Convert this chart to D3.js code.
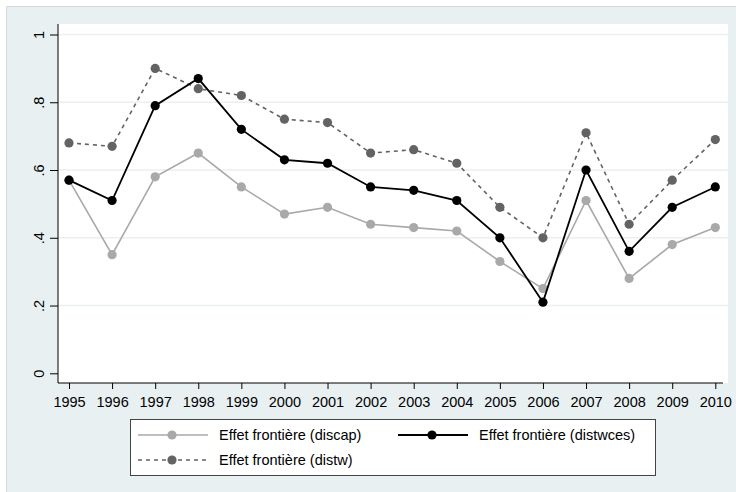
<!DOCTYPE html>
<html>
<head>
<meta charset="utf-8">
<script src="https://cdn.jsdelivr.net/npm/d3@7"></script>
<style>
  body { margin: 0; background: #ffffff; }
  svg { display: block; font-family: "Liberation Sans", Arial, sans-serif; }
</style>
</head>
<body>
<div id="canvas"></div>
<script>
"use strict"

// data
let years = [1995, 1996, 1997, 1998, 1999, 2000, 2001, 2002, 2003, 2004, 2005, 2006, 2007, 2008, 2009, 2010];
let discap = [0.57, 0.35, 0.58, 0.65, 0.55, 0.47, 0.49, 0.44, 0.43, 0.42, 0.33, 0.25, 0.51, 0.28, 0.38, 0.43];
let distwces = [0.57, 0.51, 0.79, 0.87, 0.72, 0.63, 0.62, 0.55, 0.54, 0.51, 0.40, 0.21, 0.60, 0.36, 0.49, 0.55];
let distw = [0.68, 0.67, 0.90, 0.84, 0.82, 0.75, 0.74, 0.65, 0.66, 0.62, 0.49, 0.40, 0.71, 0.44, 0.57, 0.69];
let yTicks = [0, 0.2, 0.4, 0.6, 0.8, 1];
let yTickLabels = ["0", ".2", ".4", ".6", ".8", "1"];
let seriesNames = ["Effet frontière (discap)", "Effet frontière (distwces)", "Effet frontière (distw)"];

let drawingWidth = 736;
let drawingHeight = 492;
let fontSize = 14.5;

let drawing = d3.select("#canvas")
    .append("svg")
    .attr("width", drawingWidth)
    .attr("height", drawingHeight);

// outer graph region
drawing.append("rect")
    .attr("x", 6.5)
    .attr("y", 6.5)
    .attr("width", drawingWidth - 6)
    .attr("height", drawingHeight - 6)
    .attr("fill", "#e9f0f2")
    .attr("stroke", "#d4d8d9");

// plot region
let plotLeft = 58, plotRight = 728, plotTop = 24, plotBottom = 383;
drawing.append("rect")
    .attr("x", plotLeft)
    .attr("y", plotTop)
    .attr("width", plotRight - plotLeft)
    .attr("height", plotBottom - plotTop)
    .attr("fill", "white");

let x = d3.scaleLinear().domain([1995, 2010]).range([69, 715.3]);
let y = d3.scaleLinear().domain([0, 1]).range([373.3, 34.5]);

// grid lines
drawing.append("g")
    .selectAll("line")
    .data(yTicks.filter(d => d > 0))
    .join("line")
    .attr("x1", plotLeft)
    .attr("x2", plotRight)
    .attr("y1", d => y(d))
    .attr("y2", d => y(d))
    .attr("stroke", "#e9f0f2")
    .attr("stroke-width", 1.5);

// y axis
let yAxis = drawing.append("g")
    .attr("transform", `translate(${plotLeft},0)`)
    .call(d3.axisLeft(y).tickValues(yTicks).tickSize(8).tickFormat((d, i) => yTickLabels[i]));
yAxis.select(".domain").attr("d", `M0,${plotTop}V${plotBottom}`).attr("stroke", "black");
yAxis.selectAll(".tick line").attr("stroke", "black");
yAxis.selectAll(".tick text")
    .attr("transform", "rotate(-90)")
    .attr("x", 0)
    .attr("y", -14)
    .attr("dy", "0")
    .attr("text-anchor", "middle")
    .attr("font-size", fontSize)
    .attr("fill", "black")
    .attr("font-family", "Liberation Sans, Arial, sans-serif");

// x axis
let xAxis = drawing.append("g")
    .attr("transform", `translate(0,${plotBottom})`)
    .call(d3.axisBottom(x).tickValues(years).tickSize(6).tickFormat(d3.format("d")));
xAxis.select(".domain").attr("d", `M${plotLeft},0H${plotRight - 5}`).attr("stroke", "black");
xAxis.selectAll(".tick line").attr("stroke", "black");
xAxis.selectAll(".tick text")
    .attr("y", 14)
    .attr("font-size", fontSize)
    .attr("fill", "black")
    .attr("font-family", "Liberation Sans, Arial, sans-serif");

let series = [
    { name: seriesNames[0], values: discap, color: "#a9a9a9", dash: null, width: 1.6 },
    { name: seriesNames[2], values: distw, color: "#636363", dash: "4,4", width: 1.6 },
    { name: seriesNames[1], values: distwces, color: "#000000", dash: null, width: 1.8 }
];

let line = d3.line()
    .x((d, i) => x(years[i]))
    .y(d => y(d));

series.forEach(s => {
    drawing.append("path")
        .datum(s.values)
        .attr("d", line)
        .attr("fill", "none")
        .attr("stroke", s.color)
        .attr("stroke-width", s.width)
        .attr("stroke-dasharray", s.dash);
    drawing.append("g")
        .selectAll("circle")
        .data(s.values)
        .join("circle")
        .attr("cx", (d, i) => x(years[i]))
        .attr("cy", d => y(d))
        .attr("r", 4.6)
        .attr("fill", s.color);
});

// legend
drawing.append("rect")
    .attr("x", 130.5)
    .attr("y", 419.5)
    .attr("width", 525)
    .attr("height", 56)
    .attr("fill", "white")
    .attr("stroke", "#444");

// series[1] is distw (dashed), series[2] is distwces (black)
let legendItems = [
    { s: series[0], lx: 138, ly: 435 },
    { s: series[2], lx: 398, ly: 435 },
    { s: series[1], lx: 138, ly: 460 }
];

legendItems.forEach(item => {
    let g = drawing.append("g");
    g.append("line")
        .attr("x1", item.lx)
        .attr("x2", item.lx + 70)
        .attr("y1", item.ly)
        .attr("y2", item.ly)
        .attr("stroke", item.s.color)
        .attr("stroke-width", item.s.width)
        .attr("stroke-dasharray", item.s.dash);
    g.append("circle")
        .attr("cx", item.lx + 34)
        .attr("cy", item.ly)
        .attr("r", 4.6)
        .attr("fill", item.s.color);
    g.append("text")
        .attr("x", item.lx + 81)
        .attr("y", item.ly + 5)
        .attr("font-size", fontSize)
        .attr("fill", "black")
        .text(item.s.name);
});
</script>
</body>
</html>
